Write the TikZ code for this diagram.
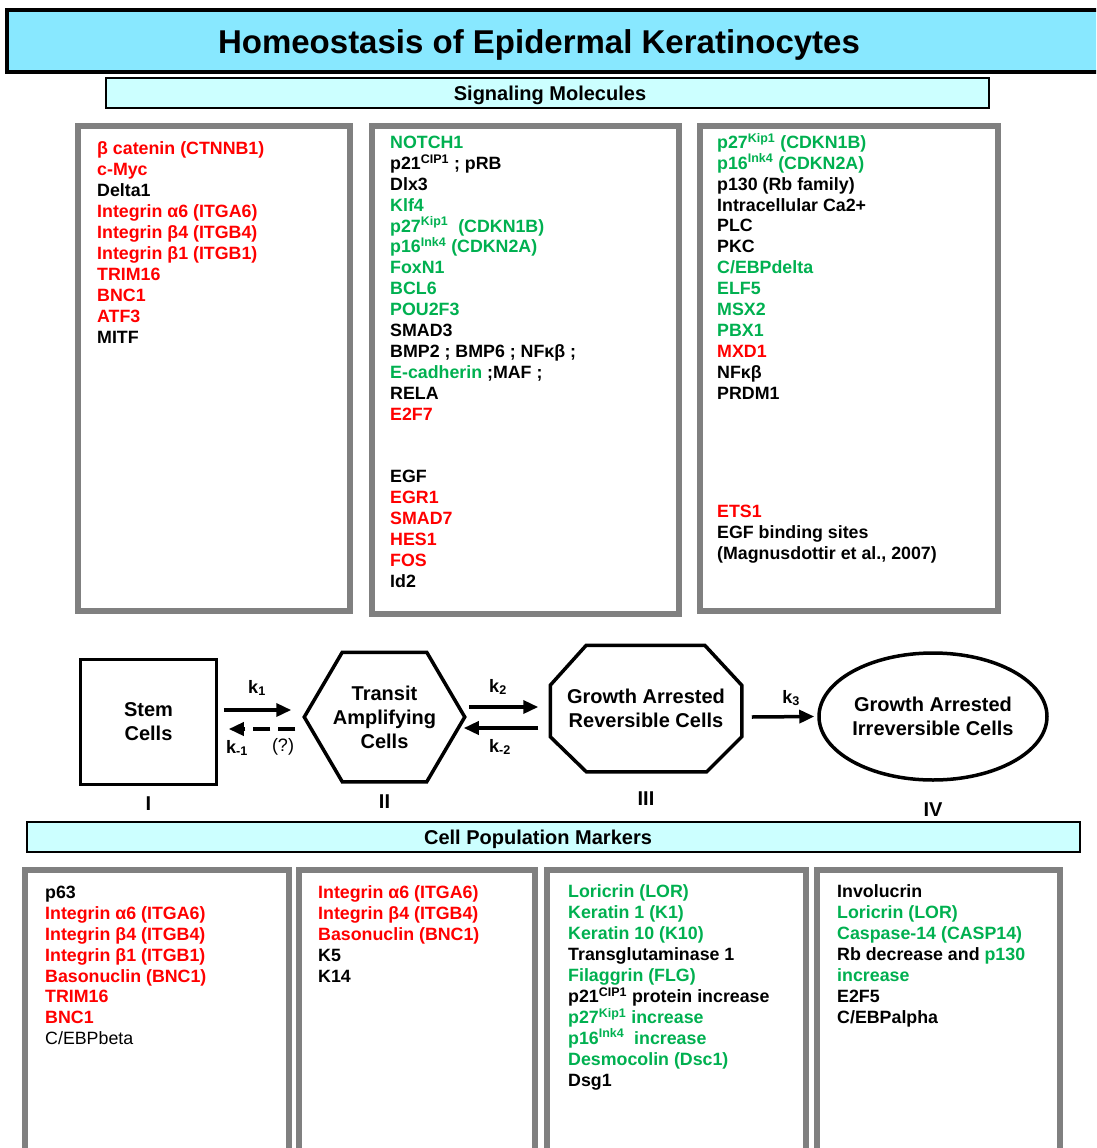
\documentclass[tikz,border=0pt]{standalone}
\usepackage{fontspec}
\setmainfont{Liberation Sans}
\usepackage{tikz}
\usetikzlibrary{positioning, shapes.geometric, arrows.meta}
\usepackage{xcolor}
\definecolor{titlecyan}{RGB}{136,232,255}
\definecolor{barcyan}{RGB}{204,255,255}
\definecolor{upred}{RGB}{255,0,0}
\definecolor{downgreen}{RGB}{0,176,80}
\definecolor{panelgray}{RGB}{128,128,128}
\newcommand{\rtxt}[1]{\textcolor{upred}{#1}}
\newcommand{\gtxt}[1]{\textcolor{downgreen}{#1}}
\newcommand{\listfont}{\bfseries\fontsize{17.8}{20.9}\selectfont\lineskiplimit=-40pt}
\newcommand{\cellfont}{\bfseries\fontsize{20}{24}\selectfont}

\begin{document}
\begin{tikzpicture}[x=1pt, y=-1pt, >={Triangle[length=15pt,width=13pt]},
  panel/.style={draw=panelgray, line width=6pt},
  list/.style={anchor=north west, align=left, inner sep=0pt, font=\listfont, execute at begin node=\strut},
  bar/.style={draw, line width=2pt, fill=barcyan, font=\bfseries\fontsize{20}{24}\selectfont},
  cell/.style={draw, line width=3.5pt, align=center, font=\cellfont, inner sep=0pt},
  outline/.style={line width=3.5pt, line join=miter},
  flow/.style={line width=3.5pt},
  rate/.style={font=\bfseries\fontsize{18}{20}\selectfont, inner sep=0pt},
  stage/.style={font=\bfseries\fontsize{20}{24}\selectfont, inner sep=0pt}]
  \useasboundingbox (0,0) rectangle (1096,1148);
  \clip (0,0) rectangle (1096,1148);

  % headings
  \node[draw, line width=4pt, fill=titlecyan, minimum width=1103pt, minimum height=62pt] (titlebar) at (558.5,41) {};
  \node[font=\bfseries\fontsize{33}{36}\selectfont, inner sep=0pt] (title) at (539,45) {Homeostasis of Epidermal Keratinocytes};
  \node[bar, minimum width=883pt, minimum height=30pt, inner sep=0pt] (sigbar) at (547.5,93) {};
  \node[font=\bfseries\fontsize{20}{24}\selectfont, inner sep=0pt] (sigtitle) at (550,95) {Signaling Molecules};

  % signaling panels
  \node[panel, minimum width=272pt, minimum height=485pt] (sig1) at (214,368.5) {};
  \node[panel, minimum width=307pt, minimum height=488pt] (sig2) at (525.5,370) {};
  \node[panel, minimum width=298pt, minimum height=485pt] (sig3) at (849,368.5) {};

  \node[list] (sig1txt) at (97,141.8) {\rtxt{β catenin (CTNNB1)}\\
    \rtxt{c-Myc}\\
    Delta1\\
    \rtxt{Integrin α6 (ITGA6)}\\
    \rtxt{Integrin β4 (ITGB4)}\\
    \rtxt{Integrin β1 (ITGB1)}\\
    \rtxt{TRIM16}\\
    \rtxt{BNC1}\\
    \rtxt{ATF3}\\
    MITF};
  \node[list] (sig2txt) at (390,135.8) {\gtxt{NOTCH1}\\
    p21\textsuperscript{CIP1} ; pRB\\
    Dlx3\\
    \gtxt{Klf4}\\
    \gtxt{p27\textsuperscript{Kip1}\ \ (CDKN1B)}\\
    \gtxt{p16\textsuperscript{Ink4} (CDKN2A)}\\
    \gtxt{FoxN1}\\
    \gtxt{BCL6}\\
    \gtxt{POU2F3}\\
    SMAD3\\
    BMP2 ; BMP6 ; NFκβ ;\\
    \gtxt{E-cadherin} ;MAF ;\\
    RELA\\
    \rtxt{E2F7}\\
    \\
    \\
    EGF\\
    \rtxt{EGR1}\\
    \rtxt{SMAD7}\\
    \rtxt{HES1}\\
    \rtxt{FOS}\\
    Id2};
  \node[list] (sig3txt) at (717,132.8) {\gtxt{p27\textsuperscript{Kip1} (CDKN1B)}\\
    \gtxt{p16\textsuperscript{Ink4} (CDKN2A)}\\
    p130 (Rb family)\\
    Intracellular Ca2+\\
    PLC\\
    PKC\\
    \gtxt{C/EBPdelta}\\
    \gtxt{ELF5}\\
    \gtxt{MSX2}\\
    \gtxt{PBX1}\\
    \rtxt{MXD1}\\
    NFκβ\\
    PRDM1};
  \node[list] (egfsites) at (717,504.8) {\rtxt{ETS1}\\
    EGF binding sites\\
    (Magnusdottir et al., 2007)};

  % cell populations
  \node[cell, minimum width=136pt, minimum height=125pt] (stem) at (148.5,722) {Stem\\Cells};
  \node[cell, draw=none, minimum width=157pt, minimum height=126pt] (ta) at (384.5,717) {Transit\\Amplifying\\Cells};
  \node[cell, draw=none, minimum width=188pt, minimum height=123pt] (gar) at (646,708.5) {Growth Arrested\\Reversible Cells};
  \node[cell, ellipse, minimum width=224pt, minimum height=127pt] (gai) at (933,716.5) {Growth Arrested\\Irreversible Cells};

  % hexagon and octagon outlines
  \draw[outline] (ta.west) -- ([xshift=38pt]ta.north west) -- ([xshift=-38pt]ta.north east) -- (ta.east)
    -- ([xshift=-38pt]ta.south east) -- ([xshift=38pt]ta.south west) -- cycle;
  \draw[outline] ([xshift=36pt]gar.north west) -- ([xshift=-37pt]gar.north east) -- ([yshift=-40pt]gar.north east)
    -- ([yshift=35pt]gar.south east) -- ([xshift=-35pt]gar.south east) -- ([xshift=36pt]gar.south west)
    -- ([yshift=35pt]gar.south west) -- ([yshift=-40pt]gar.north west) -- cycle;

  \node[stage, below=10pt of stem] (st1) {I};
  \node[stage, below=13pt of ta] (st2) {II};
  \node[stage, below=20pt of gar] (st3) {III};
  \node[stage, below=21pt of gai] (st4) {IV};

  % transitions
  \draw[flow, ->] ([shift={(5.5pt,12pt)}]stem.east) -- ([shift={(-13pt,7pt)}]ta.west);
  \draw[flow, ->, dash pattern=on 17pt off 8pt] ([shift={(-9pt,-12pt)}]ta.west) -- ([shift={(10.5pt,-7pt)}]stem.east);
  \draw[flow, ->] ([shift={(4pt,10pt)}]ta.east) -- ([shift={(-12pt,1.5pt)}]gar.west);
  \draw[flow, ->] ([shift={(-12pt,-19.5pt)}]gar.west) -- ([shift={(-1pt,-11pt)}]ta.east);
  \draw[flow, ->] ([shift={(10pt,-8.5pt)}]gar.east) -- ([shift={(-3pt,0pt)}]gai.west);

  \node[rate] (k1) at (257,688) {k\textsubscript{1}};
  \node[rate] (km1) at (237,748) {k\textsubscript{-1}};
  \node[rate, font=\fontsize{18}{20}\selectfont] (unsure) at (283,747) {(?)};
  \node[rate] (k2) at (498,687) {k\textsubscript{2}};
  \node[rate] (km2) at (500,747) {k\textsubscript{-2}};
  \node[rate] (k3) at (791,698) {k\textsubscript{3}};

  % marker panels
  \node[bar, minimum width=1053pt, minimum height=30pt] (mkbar) at (553.5,837) {};
  \node[font=\bfseries\fontsize{20}{24}\selectfont, inner sep=0pt] (mktitle) at (538,839) {Cell Population Markers};

  \node[panel, minimum width=264pt, minimum height=290pt] (mk1) at (157,1015) {};
  \node[panel, minimum width=236pt, minimum height=290pt] (mk2) at (417,1015) {};
  \node[panel, minimum width=258.5pt, minimum height=290pt] (mk3) at (676.25,1015) {};
  \node[panel, minimum width=243pt, minimum height=290pt] (mk4) at (938.5,1015) {};

  \node[list] (mk1txt) at (45,885.8) {p63\\
    \rtxt{Integrin α6 (ITGA6)}\\
    \rtxt{Integrin β4 (ITGB4)}\\
    \rtxt{Integrin β1 (ITGB1)}\\
    \rtxt{Basonuclin (BNC1)}\\
    \rtxt{TRIM16}\\
    \rtxt{BNC1}\\
    {\mdseries C/EBPbeta}};
  \node[list] (mk2txt) at (318,885.8) {\rtxt{Integrin α6 (ITGA6)}\\
    \rtxt{Integrin β4 (ITGB4)}\\
    \rtxt{Basonuclin (BNC1)}\\
    K5\\
    K14};
  \node[list] (mk3txt) at (568,884.8) {\gtxt{Loricrin (LOR)}\\
    \gtxt{Keratin 1 (K1)}\\
    \gtxt{Keratin 10 (K10)}\\
    Transglutaminase 1\\
    \gtxt{Filaggrin (FLG)}\\
    p21\textsuperscript{CIP1} protein increase\\
    \gtxt{p27\textsuperscript{Kip1} increase}\\
    \gtxt{p16\textsuperscript{Ink4}\ \ increase}\\
    \gtxt{Desmocolin (Dsc1)}\\
    Dsg1};
  \node[list] (mk4txt) at (837,884.8) {Involucrin\\
    \gtxt{Loricrin (LOR)}\\
    \gtxt{Caspase-14 (CASP14)}\\
    Rb decrease and \gtxt{p130}\\
    \gtxt{increase}\\
    E2F5\\
    C/EBPalpha};
\end{tikzpicture}
\end{document}
